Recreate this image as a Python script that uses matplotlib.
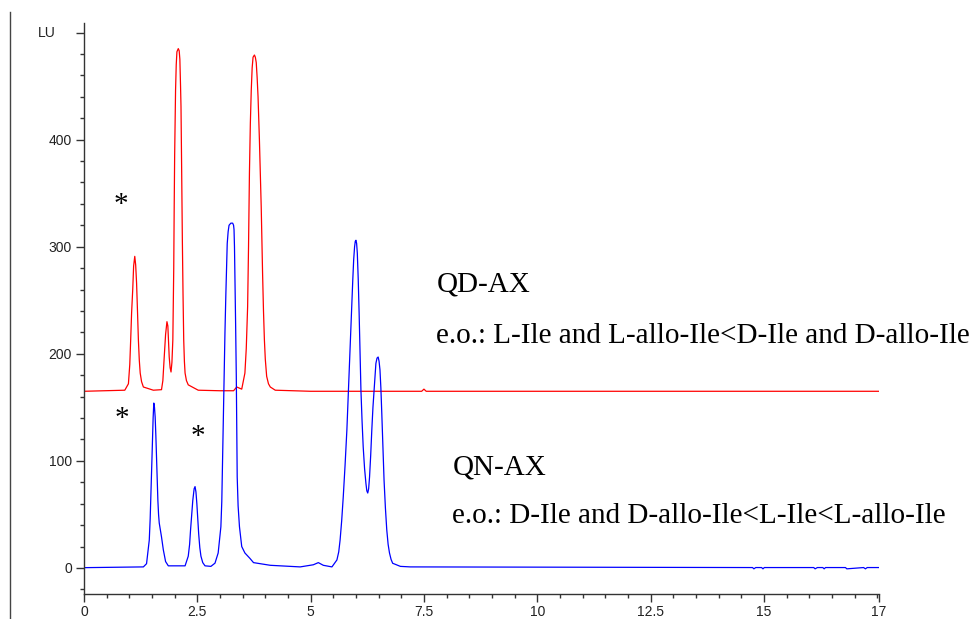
import matplotlib
matplotlib.use("Agg")
import matplotlib.pyplot as plt
from matplotlib.lines import Line2D
from matplotlib.ticker import MultipleLocator, FixedLocator

# Retention time (min) and fluorescence signal (LU), QD-AX column trace
qd_time = [0.0, 0.90, 0.98, 1.01, 1.03, 1.05, 1.075, 1.095, 1.12, 1.14, 1.16, 1.18,
           1.20, 1.22, 1.24, 1.27, 1.31, 1.53, 1.71, 1.74, 1.77, 1.80, 1.83, 1.85,
           1.88, 1.90, 1.92, 1.94, 1.96, 1.98, 1.99, 2.00, 2.02, 2.035, 2.05, 2.08,
           2.10, 2.115, 2.13, 2.14, 2.155, 2.17, 2.185, 2.20, 2.215, 2.23, 2.26, 2.30,
           2.52, 3.00, 3.30, 3.37, 3.48, 3.55, 3.58, 3.61, 3.63, 3.65, 3.67, 3.69,
           3.71, 3.73, 3.76, 3.78, 3.80, 3.82, 3.84, 3.87, 3.91, 3.94, 3.96, 3.98,
           4.00, 4.03, 4.07, 4.11, 4.22, 5.00, 7.45, 7.50, 7.55, 17.54]
qd_signal = [165, 166, 172, 190, 213, 238, 260, 282, 291, 283, 266, 240,
             213, 194, 182, 174, 169, 166, 166.5, 175, 197, 218, 230, 226,
             197, 187, 183, 192, 213, 280, 337, 385, 446, 470, 482, 485,
             483, 475, 450, 431, 370, 306, 255, 213, 193, 182, 175, 171,
             166, 165.5, 165.5, 169, 167, 182, 205, 244, 300, 369, 415, 446,
             467, 477, 479, 477, 472, 458, 440, 400, 337, 275, 240, 213,
             195, 179, 172, 169, 166, 165, 165, 167, 165, 165]

# QN-AX column trace
qn_time = [0.0, 1.31, 1.38, 1.44, 1.46, 1.48, 1.50, 1.51, 1.525, 1.54, 1.555, 1.57,
           1.585, 1.60, 1.615, 1.63, 1.645, 1.66, 1.71, 1.75, 1.80, 1.86, 2.23, 2.30,
           2.33, 2.35, 2.38, 2.40, 2.43, 2.45, 2.47, 2.49, 2.51, 2.53, 2.555, 2.58,
           2.62, 2.67, 2.80, 2.89, 2.96, 3.02, 3.04, 3.05, 3.07, 3.09, 3.11, 3.13,
           3.16, 3.18, 3.20, 3.24, 3.28, 3.30, 3.31, 3.32, 3.33, 3.345, 3.36, 3.37,
           3.38, 3.40, 3.43, 3.48, 3.55, 3.66, 3.74, 3.89, 4.11, 4.33, 4.77, 5.06,
           5.17, 5.28, 5.47, 5.58, 5.62, 5.65, 5.685, 5.72, 5.76, 5.80, 5.835, 5.87,
           5.90, 5.93, 5.95, 5.97, 5.985, 6.00, 6.015, 6.03, 6.05, 6.07, 6.09, 6.11,
           6.135, 6.16, 6.19, 6.22, 6.24, 6.26, 6.28, 6.30, 6.325, 6.35, 6.375, 6.40,
           6.42, 6.44, 6.465, 6.49, 6.51, 6.53, 6.55, 6.57, 6.595, 6.62, 6.65, 6.68,
           6.71, 6.74, 6.775, 6.81, 6.98, 7.20, 14.75, 14.78, 14.82, 14.95, 14.98,
           15.01, 16.10, 16.13, 16.18, 16.30, 16.33, 16.36, 16.80, 16.83, 17.20,
           17.24, 17.28, 17.54]
qn_signal = [0.3, 1, 4, 26, 46, 73, 103, 119, 140, 154, 150, 141,
             124, 104, 83, 63, 50, 42, 29, 17, 6, 2, 2, 11,
             22, 35, 52, 63, 74, 76, 71, 60, 46, 32, 19, 11,
             5, 2, 1.5, 4.5, 14, 38.5, 62, 85, 130, 179, 220, 256,
             303, 314, 320, 322, 322, 320, 316, 300, 272, 228, 179, 130,
             85, 58, 38.5, 20, 14, 9, 5, 4, 2.5, 2, 1, 3,
             5, 2.5, 1, 7.5, 15, 26, 44, 66.5, 96, 129, 167, 206.5,
             240, 269, 288, 300, 305, 306, 303, 294, 270, 238, 202, 166,
             137, 113, 93, 79, 72, 70, 74, 85, 105, 129, 150, 166,
             180, 191, 196, 197, 193, 185, 168, 144.5, 112, 82, 56, 35.5,
             22, 14, 8, 4.4, 1.5, 1, 0.4, -0.8, 0.4, 0.4, -0.8,
             0.4, 0.4, -0.8, 0.4, 0.4, -0.8, 0.4, 0.4, -0.8, 0.4,
             -0.8, 0.4, 0.4]

# Axis ticks
x_major = [0, 2.5, 5, 7.5, 10, 12.5, 15, 17.54]
x_labels = ["0", "2.5", "5", "7.5", "10", "12.5", "15", "17"]
y_major = [0, 100, 200, 300, 400, 500]
y_labels = ["0", "100", "200", "300", "400", ""]

# Annotations: (time, signal, text)
column_labels = [(7.78, 258, "QD-AX"),
                 (7.77, 210, "e.o.: L-Ile and L-allo-Ile<D-Ile and D-allo-Ile"),
                 (8.13, 87, "QN-AX"),
                 (8.13, 42, "e.o.: D-Ile and D-allo-Ile<L-Ile<L-allo-Ile")]
star_marks = [(0.82, 339), (0.84, 139), (2.52, 122)]

W, H = 974, 619
fig = plt.figure(figsize=(W / 100, H / 100), dpi=100)
ax = fig.add_axes([84 / W, 25 / H, (879 - 84) / W, (594 - 23) / H])

ax.plot(qd_time, qd_signal, color="#ff0000", lw=0.9)
ax.plot(qn_time, qn_signal, color="#0000ff", lw=0.9)

ax.set_xlim(0, 17.54)
ax.set_ylim(-24.3, 508.9)

axis_col = "#333333"
for side in ("top", "right"):
    ax.spines[side].set_visible(False)
for side in ("left", "bottom"):
    ax.spines[side].set_color(axis_col)
    ax.spines[side].set_linewidth(1.0)

ax.xaxis.set_major_locator(FixedLocator(x_major))
ax.set_xticklabels(x_labels)
ax.xaxis.set_minor_locator(MultipleLocator(0.5))
ax.yaxis.set_major_locator(FixedLocator(y_major))
ax.set_yticklabels(y_labels)
ax.yaxis.set_minor_locator(MultipleLocator(20))

tick_font = "Liberation Sans"
ax.tick_params(axis="both", which="major", length=5.8, width=1.0, color=axis_col,
               labelsize=10, labelcolor="#222222", direction="out")
ax.tick_params(axis="both", which="minor", length=2.9, width=1.0, color=axis_col,
               direction="out")
ax.tick_params(axis="x", which="major", pad=2)
ax.tick_params(axis="y", which="major", pad=3)
for lab in ax.get_xticklabels() + ax.get_yticklabels():
    lab.set_fontfamily(tick_font)

fig.text(47 / W, 1 - 33 / H, "LU", ha="center", va="center", fontsize=10,
         family=tick_font, color="#222222")

for t, v, s in column_labels:
    ax.text(t, v, s, ha="left", va="baseline", fontsize=21,
            family="Liberation Serif", color="black")
for t, v in star_marks:
    ax.text(t, v, "*", ha="center", va="center", fontsize=21,
            family="Liberation Serif", color="black")

# Frame line on the left edge of the page
fig.add_artist(Line2D([9.5 / W, 9.5 / W], [0, 1 - 12 / H], color="#444444", lw=1.0))

fig.savefig("out.png", dpi=100, facecolor="white")
